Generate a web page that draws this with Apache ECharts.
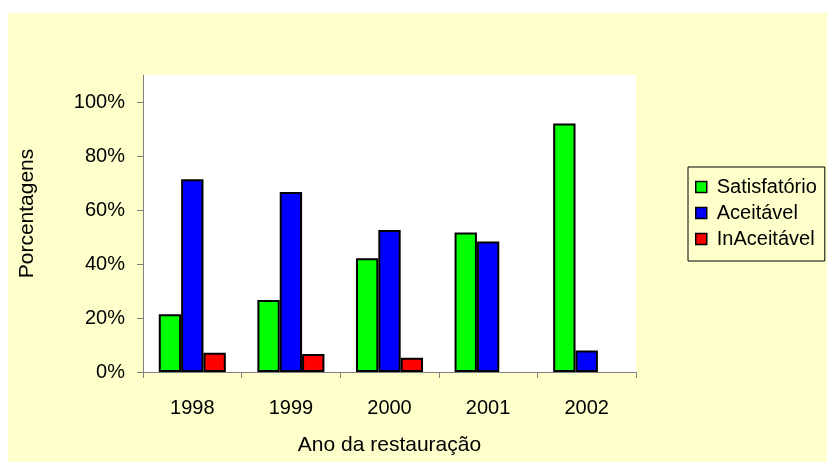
<!DOCTYPE html>
<html>
<head>
<meta charset="utf-8">
<script src="https://cdn.jsdelivr.net/npm/echarts@6/dist/echarts.min.js"></script>
<style>
  body { margin: 0; background: #fff; }
  .page { position: relative; width: 827px; height: 462px; background: #fff; }
  .chart { position: absolute; left: 8px; top: 13px; width: 819px; height: 449px; background: #ffffcc; }
</style>
</head>
<body>
<div class="page"><div class="chart" id="chart"></div></div>
<script>
// anos e porcentagens
var anos = ["1998", "1999", "2000", "2001", "2002"];
var satisfatorio = [21.4, 26.7, 42.1, 51.7, 92.0];
var aceitavel = [71.4, 66.7, 52.6, 48.3, 8.0];
var inaceitavel = [7.1, 6.7, 5.3, null, null];
var yTicks = [0, 20, 40, 60, 80, 100];

var font = "Liberation Sans, Arial, sans-serif";

function barSerie(nome, cor, dados) {
  return {
    name: nome,
    type: "bar",
    data: dados,
    barGap: "0%",
    barCategoryGap: "32%",
    itemStyle: { color: cor, borderColor: "#000", borderWidth: 2 }
  };
}

var option = {
  animation: false,
  textStyle: { fontFamily: font },
  grid: {
    left: 135, top: 62, width: 493, height: 297,
    show: true, backgroundColor: "#fff", borderWidth: 0
  },
  legend: {
    orient: "vertical",
    left: 680, top: 154,
    borderColor: "#000", borderWidth: 1,
    padding: [10, 8, 12, 7],
    itemGap: 6, itemWidth: 11, itemHeight: 11,
    icon: "rect",
    itemStyle: { borderColor: "#000", borderWidth: 1.5 },
    textStyle: { fontSize: 20, color: "#000", fontFamily: font, padding: [0, 0, 0, 5] },
    data: ["Satisfatório", "Aceitável", "InAceitável"]
  },
  xAxis: {
    type: "category",
    data: anos,
    name: "Ano da restauração",
    nameLocation: "middle",
    nameGap: 63,
    nameTextStyle: { fontSize: 21, color: "#000" },
    axisLine: { lineStyle: { color: "#808080", width: 1 } },
    axisTick: { show: true, interval: 0, length: 6, lineStyle: { color: "#808080" } },
    axisLabel: { fontSize: 20, color: "#000", margin: 26 }
  },
  yAxis: {
    type: "value",
    min: 0, max: 110, interval: 20,
    name: "Porcentagens",
    nameLocation: "middle",
    nameGap: 105,
    nameTextStyle: { fontSize: 21, color: "#000", padding: [0, 0, 0, 20] },
    axisLine: { show: true, lineStyle: { color: "#808080", width: 1 } },
    axisTick: { show: true, length: 6, customValues: yTicks, lineStyle: { color: "#808080" } },
    axisLabel: {
      fontSize: 20, color: "#000", margin: 18,
      customValues: yTicks,
      formatter: function (v) { return v + "%"; }
    },
    splitLine: { show: false }
  },
  series: [
    barSerie("Satisfatório", "#00ff00", satisfatorio),
    barSerie("Aceitável", "#0000ff", aceitavel),
    barSerie("InAceitável", "#ff0000", inaceitavel)
  ]
};

var chart = echarts.init(document.getElementById("chart"));
chart.setOption(option);
</script>
</body>
</html>
